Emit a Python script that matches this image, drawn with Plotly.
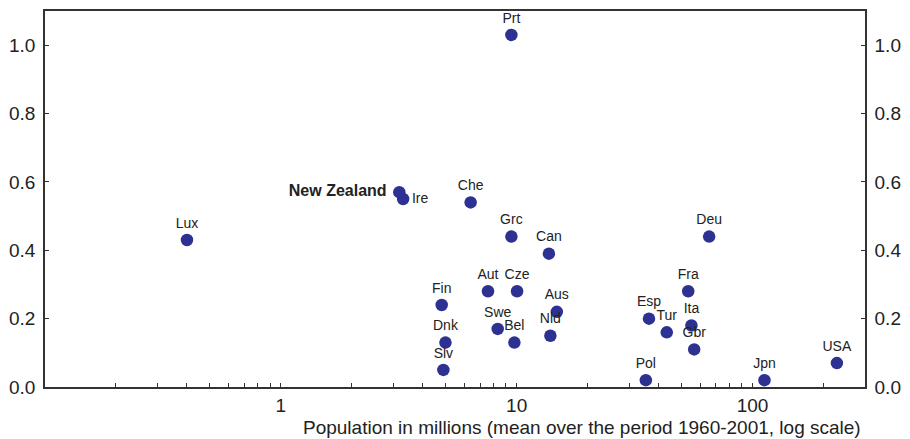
import plotly.graph_objects as go

# Mean population (millions, 1960-2001) and the plotted indicator for each country
countries = ["Prt", "New Zealand", "Ire", "Che", "Grc", "Can", "Lux", "Deu",
             "Fin", "Aut", "Cze", "Aus", "Swe", "Bel", "Nld", "Dnk", "Slv",
             "Esp", "Tur", "Ita", "Gbr", "Fra", "Pol", "Jpn", "USA"]
population = [9.5, 3.18, 3.3, 6.38, 9.5, 13.7, 0.40, 65.5,
              4.81, 7.56, 10.04, 14.8, 8.31, 9.78, 13.9, 4.99, 4.89,
              36.4, 43.3, 55.1, 56.6, 53.4, 35.3, 112.4, 228.0]
values = [1.03, 0.57, 0.55, 0.54, 0.44, 0.39, 0.43, 0.44,
          0.24, 0.28, 0.28, 0.22, 0.17, 0.13, 0.15, 0.13, 0.05,
          0.20, 0.16, 0.18, 0.11, 0.28, 0.02, 0.02, 0.07]

y_ticks = [0.0, 0.2, 0.4, 0.6, 0.8, 1.0]
y_ticklabels = ["0.0", "0.2", "0.4", "0.6", "0.8", "1.0"]
x_majors = [1, 10, 100]

DOT = "#2D3192"
INK = "#222222"
AXIS = "#333333"
FONT = "Liberation Sans, Arial, sans-serif"
TICK_SIZE = 19

# x ticks: minor marks at 2..9 of every decade, labels only on powers of ten
x_tickvals = []
x_ticktext = []
for base in [0.1, 1, 10, 100]:
    for m in range(1, 10):
        v = round(base * m, 6)
        if v < 0.1 or v > 300:
            continue
        x_tickvals.append(v)
        x_ticktext.append(str(int(v)) if v in x_majors else "")

positions = []
labels = []
for c in countries:
    if c == "New Zealand":
        positions.append("middle left")
        labels.append("<b><span style='font-size:16px'>New Zealand</span></b> ")
    elif c == "Ire":
        positions.append("middle right")
        labels.append(c)
    else:
        positions.append("top center")
        labels.append(c)

fig = go.Figure()
fig.add_trace(go.Scatter(
    x=population, y=values, mode="markers+text",
    text=labels, textposition=positions,
    textfont=dict(family=FONT, size=14, color=INK),
    marker=dict(size=12.5, color=DOT, line=dict(width=0)),
    cliponaxis=False, showlegend=False, hoverinfo="x+y",
))
# same points on the right-hand axis so it shares the scale
fig.add_trace(go.Scatter(
    x=population, y=values, mode="markers", yaxis="y2",
    marker=dict(size=12.5, color=DOT, opacity=0),
    showlegend=False, hoverinfo="skip",
))

fig.update_layout(
    width=910, height=439,
    margin=dict(l=44, r=45, t=9, b=52),
    paper_bgcolor="white", plot_bgcolor="white",
    font=dict(family=FONT, color=INK, size=TICK_SIZE),
    xaxis=dict(
        type="log", range=[-1, 2.4771],
        tickvals=x_tickvals, ticktext=x_ticktext,
        ticks="inside", ticklen=4, tickwidth=1, tickcolor=AXIS,
        showline=True, linecolor=AXIS, linewidth=1.5, mirror=True,
        showgrid=False, zeroline=False,
        tickfont=dict(size=TICK_SIZE, color=INK),
    ),
    yaxis=dict(
        range=[0, 1.1], tickvals=y_ticks, ticktext=y_ticklabels,
        ticks="inside", ticklen=4, tickwidth=1, tickcolor=AXIS,
        showline=True, linecolor=AXIS, linewidth=1.5,
        showgrid=False, zeroline=False, ticklabelstandoff=4,
        tickfont=dict(size=TICK_SIZE, color=INK),
    ),
    yaxis2=dict(
        range=[0, 1.1], tickvals=y_ticks, ticktext=y_ticklabels,
        overlaying="y", side="right",
        ticks="inside", ticklen=4, tickwidth=1, tickcolor=AXIS,
        showline=True, linecolor=AXIS, linewidth=1.5,
        showgrid=False, zeroline=False, ticklabelstandoff=4,
        tickfont=dict(size=TICK_SIZE, color=INK),
    ),
    annotations=[dict(
        text="Population in millions (mean over the period 1960-2001, log scale)",
        xref="paper", yref="paper", x=1.0, y=0, xanchor="right", yanchor="top",
        xshift=-2, yshift=-28, showarrow=False,
        font=dict(family=FONT, size=19, color=INK),
    )],
)

fig.write_html("out.html")
